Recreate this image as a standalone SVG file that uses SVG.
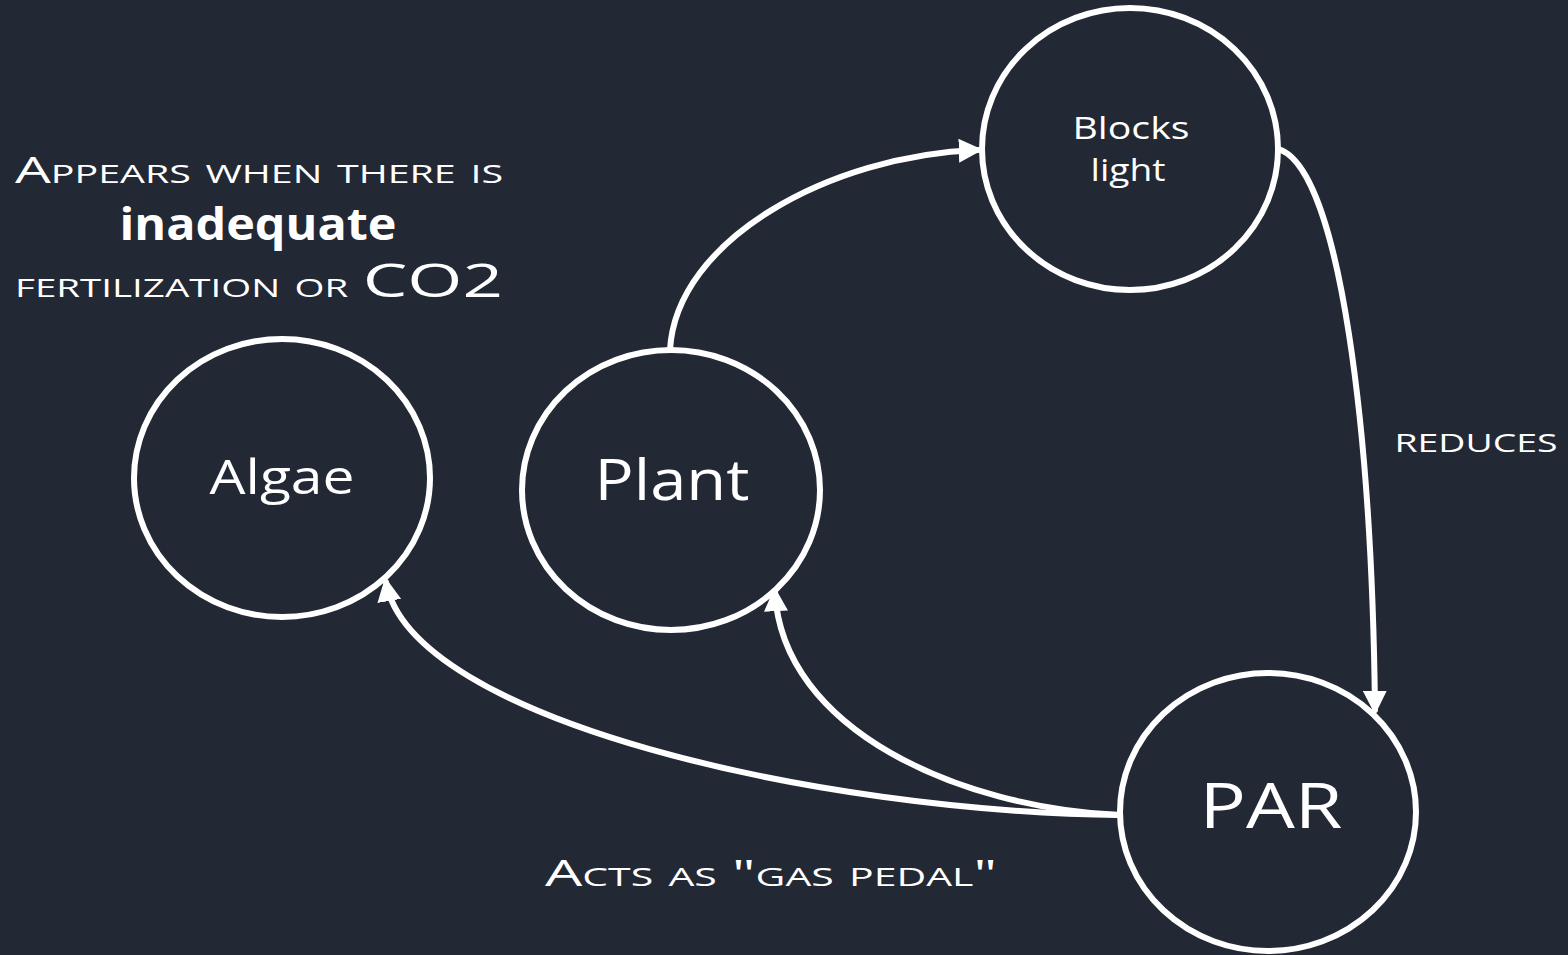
<svg xmlns="http://www.w3.org/2000/svg" width="1568" height="955" viewBox="0 0 1568 955">
  <defs>
    <style>
      .node { fill: none; stroke: #ffffff; stroke-width: 6; }
      .edge { fill: none; stroke: #ffffff; stroke-width: 6; stroke-linecap: round; }
      .lbl { fill: #ffffff; font-family: "Open Sans", "Liberation Sans", sans-serif; text-anchor: middle; }
      .sc { font-variant: small-caps; }
    </style>
    <marker id="arrow" viewBox="0 0 10 10" refX="8" refY="5" markerWidth="4" markerHeight="4" markerUnits="strokeWidth" orient="auto">
      <path d="M0,0 L10,5 L0,10 z" fill="#ffffff"/>
    </marker>
  </defs>

  <rect width="1568" height="955" fill="#222834"/>

  <!-- connectors -->
  <g id="connectors">
    <path class="edge" d="M 670 350 C 676 240 830 155 978 150" marker-end="url(#arrow)"/>
    <path class="edge" d="M 1281 150 C 1340 175 1372 430 1375 710" marker-end="url(#arrow)"/>
    <path class="edge" d="M 1120 815 C 820 812 410 720 386 582" marker-end="url(#arrow)"/>
    <path class="edge" d="M 1120 815 C 960 808 782 730 775 592" marker-end="url(#arrow)"/>
  </g>

  <!-- nodes -->
  <g id="node-algae">
    <ellipse class="node" cx="282" cy="478" rx="148" ry="139"/>
    <text class="lbl" x="282" y="494" font-size="48" textLength="145" lengthAdjust="spacingAndGlyphs">Algae</text>
  </g>
  <g id="node-plant">
    <ellipse class="node" cx="671" cy="490" rx="149" ry="140"/>
    <text class="lbl" x="672" y="500" font-size="56" textLength="155" lengthAdjust="spacingAndGlyphs">Plant</text>
  </g>
  <g id="node-blocks-light">
    <ellipse class="node" cx="1130" cy="149" rx="148" ry="141"/>
    <text class="lbl" x="1131" y="139" font-size="31" textLength="117" lengthAdjust="spacingAndGlyphs">Blocks</text>
    <text class="lbl" x="1128" y="181" font-size="31" textLength="75" lengthAdjust="spacingAndGlyphs">light</text>
  </g>
  <g id="node-par">
    <ellipse class="node" cx="1268" cy="812" rx="148" ry="139"/>
    <text class="lbl" x="1271" y="828" font-size="62" textLength="143" lengthAdjust="spacingAndGlyphs">PAR</text>
  </g>

  <!-- free labels -->
  <g id="note-algae">
    <text class="lbl sc" x="259" y="183" font-size="36" textLength="488" lengthAdjust="spacingAndGlyphs">Appears when there is</text>
    <text class="lbl" x="258" y="240" font-size="44" font-weight="bold" textLength="277" lengthAdjust="spacingAndGlyphs">inadequate</text>
    <text class="lbl sc" x="259" y="297" font-size="36" textLength="488" lengthAdjust="spacingAndGlyphs">fertilization or <tspan font-size="46">CO2</tspan></text>
  </g>
  <g id="label-reduces">
    <text class="lbl sc" x="1476" y="452" font-size="36" textLength="163" lengthAdjust="spacingAndGlyphs">reduces</text>
  </g>
  <g id="label-gas-pedal">
    <text class="lbl sc" x="771" y="886" font-size="36" textLength="452" lengthAdjust="spacingAndGlyphs">Acts as "gas pedal"</text>
  </g>
</svg>
